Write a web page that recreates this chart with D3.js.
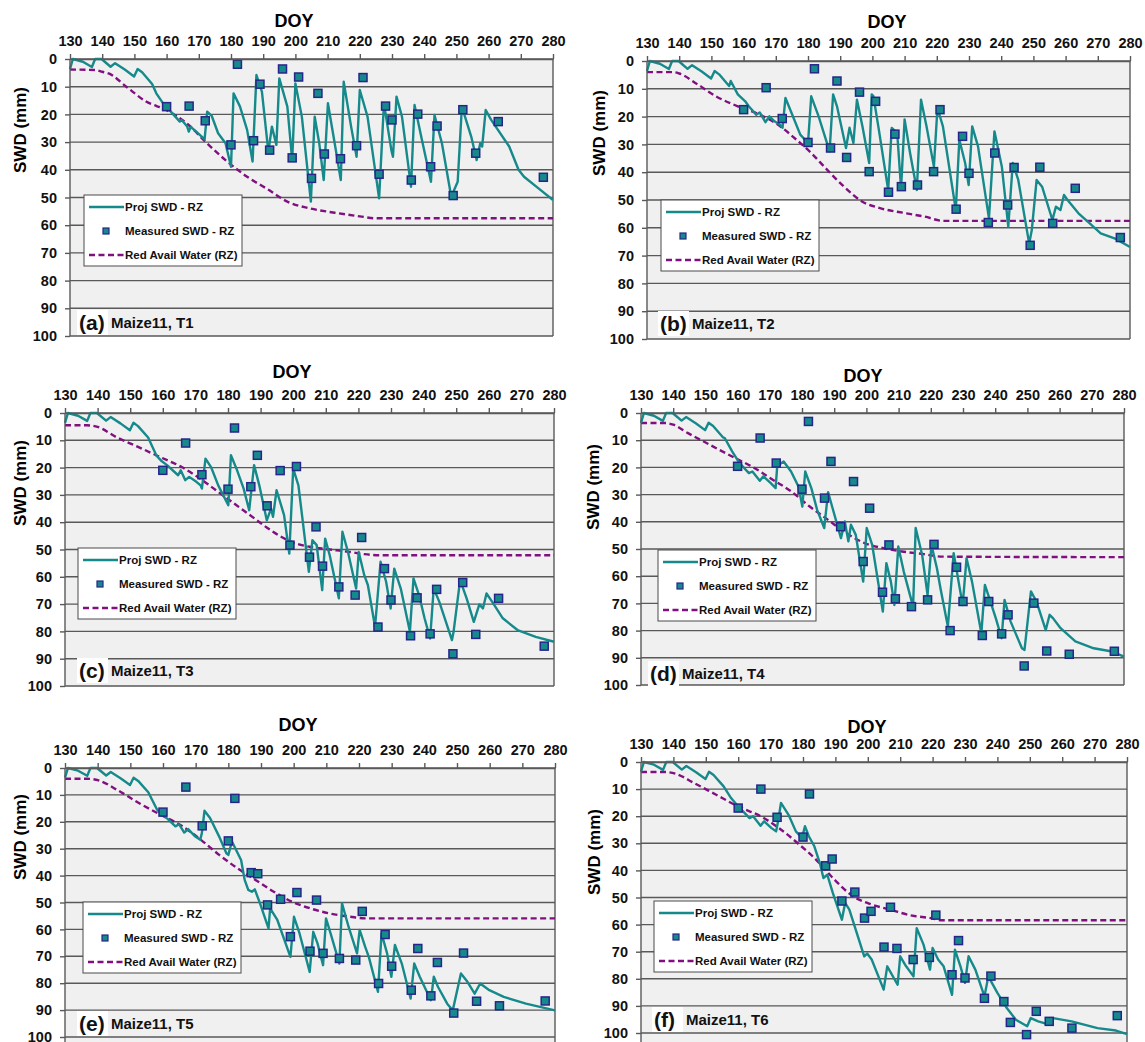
<!DOCTYPE html>
<html>
<head>
<meta charset="utf-8">
<script src="https://cdn.jsdelivr.net/npm/d3@7/dist/d3.min.js"></script>
<style>
  body { margin: 0; background: #fff; }
  svg { display: block; font-family: "Liberation Sans", Arial, sans-serif; font-weight: bold; }
</style>
</head>
<body>
<svg id="chart" width="1145" height="1042"></svg>
<script>
const doyTicks = [130, 140, 150, 160, 170, 180, 190, 200, 210, 220, 230, 240, 250, 260, 270, 280];
const swdTicks = [0, 10, 20, 30, 40, 50, 60, 70, 80, 90, 100];
const panelTags = ["(a)", "(b)", "(c)", "(d)", "(e)", "(f)"];
const panelNames = ["Maize11, T1", "Maize11, T2", "Maize11, T3", "Maize11, T4", "Maize11, T5", "Maize11, T6"];
const legendLabels = ["Proj SWD - RZ", "Measured SWD - RZ", "Red Avail Water (RZ)"];

// measurement days, shared by all treatments
const measDoy = [160, 167, 172, 180, 182, 187, 189, 192, 196, 199, 201, 205, 207, 209, 214, 219, 221, 226, 228, 230, 236, 238, 242, 244, 249, 252, 256, 263, 277];
const measA = [17.2, 17, 22.3, 31, 1.9, 29.5, 9.1, 32.9, 3.6, 35.7, 6.5, 43.1, 12.4, 34.3, 36, 31.3, 6.7, 41.6, 17, 22, 43.7, 19.9, 38.9, 24.2, 49.3, 18.3, 34, 22.6, 42.7];
const measB = [17.5, 9.6, 20.7, 29.3, 2.8, 31.3, 7.2, 34.7, 11.2, 39.8, 14.5, 47.2, 26.3, 45.2, 44.6, 39.8, 17.5, 53.3, 27.1, 40.4, 58.1, 33.1, 51.8, 38.3, 66.3, 38.2, 58.4, 45.8, 63.5];
const measC = [21, 11, 22.6, 27.9, 5.5, 27, 15.5, 34, 21.1, 48.4, 19.6, 52.8, 41.7, 56.1, 63.7, 66.7, 45.6, 78.4, 57, 68.5, 81.6, 67.7, 80.9, 64.6, 88.2, 62.1, 81.1, 67.9, 85.4];
const measD = [19.6, 9.2, 18.4, 28, 3.1, 31.3, 17.8, 41.8, 25.2, 54.6, 35, 65.9, 48.5, 68.3, 71.2, 68.7, 48.3, 80, 56.7, 69.3, 81.8, 69.3, 81.2, 74.2, 93, 69.9, 87.5, 88.7, 87.6];
const measE = [16.4, 7.1, 21.5, 27.1, 11.3, 38.9, 39.3, 50.9, 48.8, 62.7, 46.3, 68.1, 49.1, 68.9, 70.8, 71.4, 53.3, 80.1, 61.9, 73.7, 82.6, 67.1, 84.7, 72.3, 91.1, 68.8, 86.7, 88.4, 86.6];
const measF = [17, 10, 20.4, 27.7, 11.8, 38.3, 35.8, 51.3, 48, 57.6, 55.1, 68.3, 53.6, 68.8, 72.9, 72.1, 56.5, 78.5, 65.9, 79.7, 87.2, 79, 88.4, 96.1, 100.6, 92, 95.7, 98.2, 93.6];

// projected SWD [doy, mm]; early season is the same for every treatment
const projStart = [[130, 3.6], [130.9, 0], [134, 1], [136.8, 2.9], [137.8, 0], [139.8, 0], [142.6, 2.8], [144, 1.5], [147, 3.8], [149.9, 6.3], [151, 3.6], [152.4, 4.8], [155.5, 9]];
const projA = [[156.8, 12.4], [159.6, 17.2], [161.3, 19], [164.1, 22.6], [164.7, 22], [166.4, 24.4], [166.9, 26.2], [167.5, 24.5], [169.2, 26.2], [170.9, 28], [171.8, 29], [172.6, 19], [174, 20.5], [176, 26.8], [178.3, 30.4], [180, 38.9], [180.8, 12.4], [182.8, 17.2], [185, 25.6], [186.7, 37], [187.9, 5.8], [189.6, 11.8], [191.6, 33.5], [192.7, 24.4], [194.1, 31], [195, 7], [197.5, 17.2], [199, 36.5], [200, 8.8], [202, 20.8], [204.8, 51.5], [206, 20.8], [207.4, 30.4], [208.8, 43.7], [210.1, 16], [212.2, 30.4], [214.1, 43.7], [215, 8.2], [217.3, 24.4], [219, 35.3], [220, 11.2], [222.4, 20.8], [226, 50.3], [227.5, 16], [229.8, 32.9], [230.3, 35.3], [231.4, 13.6], [233.1, 20.8], [235.9, 46.1], [237, 16.6], [239.3, 29.2], [242.1, 44.3], [243.2, 20.2], [245.5, 30.4], [248.4, 49.7], [250.4, 44.3], [251.7, 17.2], [254.6, 28], [256.3, 36.5], [257.4, 30.4], [258, 31.6], [259.1, 18.4], [260.8, 22], [266.4, 31.6], [269.3, 40], [271, 42.5], [275.5, 46.7], [280, 50.9]];
const projB = [[156, 7.2], [158.2, 12], [160.5, 14.5], [161.6, 16.3], [163.9, 19.3], [165, 18.5], [166.8, 22], [168, 19.9], [169.6, 21.7], [171.3, 22.9], [172.1, 24], [173, 13.3], [175.3, 19.9], [177.6, 26.5], [180, 29.5], [181, 12.7], [183.3, 19.9], [186.7, 32.5], [187.8, 12], [189, 16.3], [191.8, 31.3], [192.9, 24], [194.1, 29.5], [195.2, 13.9], [196.9, 23.5], [199, 36.7], [199.8, 12], [200.3, 12.6], [202, 24.7], [204.9, 46.4], [206, 24.1], [207.7, 25.9], [208.9, 45.8], [210, 21], [211.7, 33.1], [213.8, 46.4], [215.1, 13.9], [216.8, 23.5], [219.1, 38], [220.2, 16.9], [221.9, 23.5], [225.9, 53.6], [227, 28.3], [228.8, 36.7], [229.9, 44.6], [231, 23.5], [232.8, 30.7], [236.2, 56.6], [237.9, 25.3], [240.2, 38], [242.2, 59.6], [243.6, 36.7], [245.3, 42.8], [248.7, 65.7], [249.5, 60.8], [251, 42.8], [252.7, 45.2], [255.9, 57.2], [257, 52.4], [258.4, 53.6], [259.5, 48.2], [260.6, 50], [264, 54.8], [267.5, 58.4], [270.9, 62], [275.4, 63.9], [280, 66.9]];
const projC = [[158, 15.5], [159.7, 17.7], [161.3, 19.1], [164.7, 22.8], [165.5, 21], [166.9, 24.6], [168.1, 23.4], [170.3, 25.2], [171.6, 26.5], [172, 27.7], [173.1, 16.7], [174.8, 19.8], [177, 26.5], [180.1, 33.8], [180.9, 15.5], [182.6, 20.4], [184.8, 27.7], [186.5, 35.6], [188, 19.1], [189.6, 26.5], [191.9, 39.3], [193.2, 35], [193.8, 38], [194.9, 28.3], [197.2, 37.4], [198.8, 51.5], [200, 20.4], [201.6, 26.5], [204.8, 58.2], [205.9, 46.6], [207.2, 48.4], [208.9, 64.9], [209.8, 46], [211.2, 52.1], [214, 67.9], [215.1, 43.5], [216.8, 50.9], [219.3, 64.3], [220.1, 50.9], [221.8, 59.4], [222.9, 63], [225.1, 78.3], [226.8, 54.5], [228.5, 61.8], [229.9, 71.6], [231, 57], [233, 64.3], [235.8, 80.1], [236.9, 60.6], [238.6, 66.7], [240.3, 75.2], [242, 82.6], [243.1, 64.3], [244.8, 69.1], [248.7, 83.2], [249.2, 80.1], [251.2, 61.2], [253.2, 67.9], [255.4, 76.5], [257.1, 70.1], [258.2, 71.6], [259.3, 66.1], [261, 69.1], [264.3, 75.2], [268.8, 79.5], [274.4, 82], [280, 83.8]];
const projD = [[156, 9.2], [158.3, 14.1], [160.6, 18.4], [163.5, 22.1], [164.6, 21.5], [166.9, 24.9], [168, 23.3], [170.3, 25.8], [171.8, 27.6], [172.3, 19.6], [174.3, 17.8], [176.6, 21.5], [178.9, 27], [180.1, 34.4], [181, 21.5], [182.9, 27.6], [184.7, 35.6], [186.9, 42.3], [188.1, 29.1], [189.5, 35], [192.1, 46], [193.3, 39.9], [194.4, 47.2], [195.2, 41.1], [196.7, 44.8], [199, 62], [200.1, 42.3], [201.8, 48.5], [205.1, 73], [206.2, 55.2], [207.6, 62], [208.7, 70.6], [209.9, 49.1], [211.6, 58.3], [214.5, 71.2], [215.3, 42.3], [217.3, 52.1], [219, 66.9], [220.2, 48.5], [221.9, 57.1], [223, 64.4], [225.3, 78.5], [227.1, 51.5], [228.8, 63.2], [229.9, 70.6], [231.1, 53.4], [232.8, 62], [235.7, 81], [236.8, 63.2], [238.5, 69.3], [240.2, 75.5], [242, 82.8], [242.9, 68.7], [244.8, 76.7], [248.3, 86.5], [249.1, 87.1], [251.1, 65.6], [252.8, 69.3], [255.7, 79.8], [256.9, 74.2], [258, 75.5], [260.3, 79.1], [264.9, 84], [270.6, 86.5], [276.3, 87.7], [280, 89.6]];
const projE = [[158.2, 15.5], [159.8, 17.4], [161.5, 19], [163.8, 21.7], [164.9, 20.9], [166.5, 24], [167.7, 22.7], [169.9, 25.5], [171.4, 26.7], [171.9, 24.2], [172.7, 15.9], [174.4, 18.6], [177.2, 25.5], [179.4, 31.7], [180, 32.3], [181.1, 27.3], [183.9, 34.2], [185, 41.6], [186.1, 45.3], [187.2, 46], [188.1, 45.1], [189.7, 50.3], [192.3, 59.6], [192.8, 52.2], [195, 56.5], [199, 70.2], [200.1, 55.3], [201.8, 61.5], [204.9, 75.8], [206, 60.9], [207.3, 65.2], [209, 73.3], [209.9, 55.9], [211.3, 61.5], [214, 72.7], [214.8, 50.3], [216.8, 59], [219.4, 68.9], [220.2, 60.2], [221.9, 66.5], [223, 70.2], [225.8, 83.2], [226.9, 61.5], [228.6, 68.9], [229.9, 77.6], [231, 65.8], [233.1, 72.7], [235.8, 85.7], [236.9, 72.7], [238.6, 77.6], [242, 86.3], [242.9, 77.6], [244.2, 81.4], [247, 87.6], [248.7, 90.1], [251.2, 76.4], [253.2, 79.5], [255.4, 83.9], [257.1, 80.1], [259.9, 82.6], [264.3, 85.1], [271.1, 87.6], [280, 90.1]];
const projF = [[157.8, 13.3], [160, 16.4], [163.5, 20.7], [164.6, 20], [166.9, 23.5], [168, 21.9], [170.3, 24.4], [171.7, 25.6], [172.4, 21.3], [173.2, 15.1], [175.5, 19.4], [177.8, 25.6], [179.7, 28], [180.6, 23.7], [181.8, 27.4], [183.5, 31.1], [185.2, 37.3], [186.3, 42.8], [187.5, 41.6], [189.2, 48.3], [192, 58.2], [193, 52], [194.3, 54.5], [198.9, 71.7], [199.8, 70.7], [201.2, 72.9], [204.9, 84], [206, 75.4], [209.2, 82.2], [210, 71.7], [211.5, 74.8], [214.1, 79.1], [215.1, 61.3], [217.2, 67.4], [219.2, 76.6], [220, 68.6], [221.7, 72.9], [223.4, 75.4], [226, 85.9], [226.9, 69.3], [228.6, 75.4], [230, 81.5], [231.1, 71.7], [233.2, 76.6], [236, 86.5], [237.2, 79.1], [240, 85.2], [242.9, 90.8], [245.7, 95.1], [249.2, 97.5], [250.3, 94.5], [252.6, 95.7], [256, 96.9], [257.2, 94.5], [262.9, 95.7], [270.9, 98.2], [276.6, 99.1], [280, 100.4]];

// readily available water threshold [doy, mm]
const rawA = [[130, 3.8], [138, 4], [140, 4.6], [142, 5.2], [147.7, 10.2], [153.4, 15.2], [160, 18.5], [167, 24], [172, 29.8], [178.3, 36.5], [185, 42.5], [191.8, 47.3], [197.5, 51.5], [204.3, 53.9], [212.2, 55.5], [221.2, 57], [224.6, 57.5], [280, 57.5]];
const rawB = [[130, 4], [138, 4], [140, 4.5], [145.7, 8.4], [151.4, 12.7], [158.2, 16.3], [165, 19.3], [170.7, 22.9], [176.4, 28.3], [181, 33.1], [185.5, 38.6], [191.2, 45.2], [196.9, 50.6], [202.6, 53], [210.6, 54.8], [216.3, 56], [222, 57.5], [280, 57.5]];
const rawC = [[130, 4.5], [136.7, 4.5], [140, 5.1], [145.7, 8.8], [152.4, 12.4], [159.1, 16.1], [165.8, 19.8], [171.4, 24], [177, 28.9], [182.6, 33.8], [188.2, 38.7], [193.8, 43.5], [199.4, 47.2], [205, 49], [210.6, 49.9], [217.3, 50.9], [221.8, 51.7], [226.3, 52.1], [280, 52.1]];
const rawD = [[130, 3.7], [137.7, 3.7], [140, 4.3], [144.6, 7.4], [151.4, 11.7], [158.3, 16], [165.2, 20.2], [170.9, 24.5], [176.6, 28.8], [182.4, 34.4], [188.1, 39.3], [193.8, 44.2], [199.6, 47.9], [205.3, 49.7], [211, 50.9], [217.9, 51.9], [223.6, 52.8], [280, 53]];
const rawE = [[130, 4], [136.9, 4], [140.3, 4.6], [145.9, 8.1], [152.6, 13], [159.3, 17.4], [166, 21.7], [171.6, 26.7], [177.2, 32.3], [182.8, 37.3], [188.3, 41.6], [193.9, 46], [199.5, 49.7], [205.1, 52.2], [210.7, 54], [217.4, 55.3], [221.9, 55.9], [280, 55.9]];
const rawF = [[130, 3.7], [137.2, 3.7], [140.6, 4.3], [146.3, 7.7], [153.2, 12.1], [160, 16.4], [166.9, 20], [172.6, 24.4], [178.3, 29.9], [184, 36], [189.7, 43.4], [195.5, 49.6], [201.2, 52.6], [206.9, 54.5], [213.7, 56.7], [219.4, 57.6], [222.9, 58.4], [280, 58.4]];

const measAll = [measA, measB, measC, measD, measE, measF];
const projAll = [projA, projB, projC, projD, projE, projF];
const rawAll = [rawA, rawB, rawC, rawD, rawE, rawF];

// panel frames (plot box, title spots, legend spot)
const frames = [
  { x0: 70, x1: 553, y0: 59, y1: 336, bg1: 336, doy: [294, 21], swd: [20, 130], leg: [84, 195], tag: [79, 322] },
  { x0: 647, x1: 1130, y0: 61, y1: 339, bg1: 339, doy: [887, 22], swd: [599, 133], leg: [661, 200], tag: [660, 323] },
  { x0: 65, x1: 554, y0: 413, y1: 686, bg1: 686, doy: [292, 372], swd: [20, 483], leg: [78, 548], tag: [79, 670] },
  { x0: 641, x1: 1124, y0: 413, y1: 685, bg1: 685, doy: [863, 376], swd: [593, 487], leg: [658, 550], tag: [650, 673] },
  { x0: 65, x1: 555, y0: 768, y1: 1037, bg1: 1042, doy: [298, 725], swd: [20, 837], leg: [83, 902], tag: [79, 1023] },
  { x0: 641, x1: 1127, y0: 762, y1: 1033, bg1: 1042, doy: [867, 727], swd: [594, 852], leg: [654, 901], tag: [654, 1019] }
];

const teal = "#16898b";
const purple = "#80107f";
const navy = "#26268a";
const gridCol = "#595959";

const svg = d3.select("#chart");

frames.forEach((f, i) => {
  const x = d3.scaleLinear().domain([130, 280]).range([f.x0, f.x1]);
  const y = d3.scaleLinear().domain([0, 100]).range([f.y0, f.y1]);
  const g = svg.append("g");

  g.append("rect")
    .attr("x", f.x0).attr("y", f.y0)
    .attr("width", f.x1 - f.x0).attr("height", f.bg1 - f.y0)
    .attr("fill", "#f0f0f0");

  // horizontal grid
  g.selectAll(".grid")
    .data(swdTicks)
    .join("line")
    .attr("x1", f.x0).attr("x2", f.x1)
    .attr("y1", d => y(d)).attr("y2", d => y(d))
    .attr("stroke", gridCol).attr("stroke-width", 1.4);

  // right border
  g.append("line")
    .attr("x1", f.x1).attr("x2", f.x1)
    .attr("y1", f.y0).attr("y2", f.bg1)
    .attr("stroke", gridCol).attr("stroke-width", 1.4);

  const line = d3.line().x(d => x(d[0])).y(d => y(d[1]));

  // RAW threshold, dashed
  g.append("path")
    .attr("d", line.curve(d3.curveMonotoneX)(rawAll[i]))
    .attr("fill", "none")
    .attr("stroke", purple).attr("stroke-width", 2.4)
    .attr("stroke-dasharray", "6,3.5");

  // projected SWD
  g.append("path")
    .attr("d", d3.line().x(d => x(d[0])).y(d => y(d[1]))(projStart.concat(projAll[i])))
    .attr("fill", "none")
    .attr("stroke", teal).attr("stroke-width", 2.4)
    .attr("stroke-linejoin", "round");

  // measured SWD
  const s = 8;
  g.selectAll(".meas")
    .data(measDoy.map((d, k) => [d, measAll[i][k]]))
    .join("rect")
    .attr("x", d => x(d[0]) - s / 2).attr("y", d => y(d[1]) - s / 2)
    .attr("width", s).attr("height", s)
    .attr("fill", teal).attr("stroke", navy).attr("stroke-width", 1.5);

  // axes
  const xAxis = g.append("g")
    .attr("transform", `translate(0,${f.y0})`)
    .call(d3.axisTop(x).tickValues(doyTicks).tickSize(5).tickSizeOuter(0).tickPadding(8));
  const yAxis = g.append("g")
    .attr("transform", `translate(${f.x0},0)`)
    .call(d3.axisLeft(y).tickValues(swdTicks).tickSize(5).tickSizeOuter(0).tickPadding(8));
  [xAxis, yAxis].forEach(a => {
    a.selectAll("path, line").attr("stroke", gridCol).attr("stroke-width", 1.4);
    a.selectAll("text")
      .attr("fill", "#111")
      .style("font-size", "14.5px")
      .style("font-weight", "bold")
      .style("font-family", "'Liberation Sans', Arial, sans-serif");
  });
  yAxis.select(".domain").attr("d", `M-0,${f.y0}V${f.bg1}`);

  g.append("text")
    .attr("x", f.doy[0]).attr("y", f.doy[1] + 6)
    .attr("text-anchor", "middle")
    .style("font-size", "18px")
    .text("DOY");

  g.append("text")
    .attr("transform", `translate(${f.swd[0] + 6},${f.swd[1]}) rotate(-90)`)
    .attr("text-anchor", "middle")
    .style("font-size", "17px")
    .text("SWD (mm)");

  // legend
  const lx = f.leg[0], ly = f.leg[1];
  const leg = g.append("g").attr("transform", `translate(${lx},${ly})`);
  leg.append("rect")
    .attr("width", 158).attr("height", 71)
    .attr("fill", "#fff").attr("stroke", "#4a4a4a").attr("stroke-width", 1);
  leg.append("line")
    .attr("x1", 5).attr("x2", 40).attr("y1", 12).attr("y2", 12)
    .attr("stroke", teal).attr("stroke-width", 2.4);
  leg.append("rect")
    .attr("x", 19).attr("y", 33).attr("width", 6).attr("height", 6)
    .attr("fill", teal).attr("stroke", navy).attr("stroke-width", 1.2);
  leg.append("line")
    .attr("x1", 5).attr("x2", 40).attr("y1", 60).attr("y2", 60)
    .attr("stroke", purple).attr("stroke-width", 2.4).attr("stroke-dasharray", "6,3.5");
  leg.selectAll(".lt")
    .data(legendLabels)
    .join("text")
    .attr("x", 41).attr("y", (d, k) => 16 + k * 24)
    .style("font-size", "11.5px")
    .attr("fill", "#111")
    .text(d => d);

  // panel tag
  g.append("rect")
    .attr("x", f.tag[0] - 2).attr("y", f.tag[1] - 12)
    .attr("width", 31).attr("height", 25)
    .attr("fill", "#fff");
  g.append("text")
    .attr("x", f.tag[0]).attr("y", f.tag[1] + 8)
    .style("font-size", "21px")
    .attr("fill", "#111")
    .text(panelTags[i]);
  g.append("text")
    .attr("x", f.tag[0] + 32).attr("y", f.tag[1] + 6)
    .style("font-size", "15px")
    .attr("fill", "#111")
    .text(panelNames[i]);
});
</script>
</body>
</html>
